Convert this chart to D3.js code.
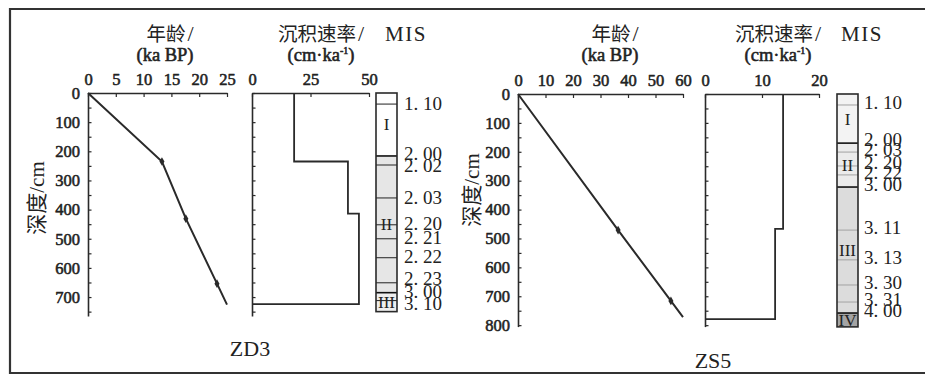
<!DOCTYPE html>
<html>
<head>
<meta charset="utf-8">
<script src="https://cdn.jsdelivr.net/npm/d3@7/dist/d3.min.js"></script>
<style>
  html, body { margin: 0; padding: 0; background: #fff; }
  svg { display: block; }
</style>
</head>
<body>
<svg id="chart" width="925" height="376"></svg>
<script>
// ---- ZD3 core ----
const zd3Depth = [0, 235, 431, 654, 726];          // cm
const zd3Age = [0, 13.3, 17.6, 23.2, 25.0];         // ka BP
const zd3AgeTicks = [0, 5, 10, 15, 20, 25];
const zd3RateTop = [0, 235, 414];                   // cm
const zd3RateBottom = [235, 414, 724];              // cm
const zd3Rate = [18.0, 41.0, 45.7];                 // cm/ka
const zd3RateTicks = [0, 25, 50];
const zd3MisLabels = ["1. 10", "2. 00", "2. 02", "2. 03", "2. 20", "2. 21", "2. 22", "2. 23", "3. 00", "3. 10"];
const zd3MisDepth = [38, 216, 247, 360, 452, 500, 565, 651, 685, 712];
const zd3Stages = ["I", "II", "III"];
const zd3StageTop = [0, 216, 685];
const zd3StageBottom = [216, 685, 750];
const zd3DepthTicks = [0, 100, 200, 300, 400, 500, 600, 700];

// ---- ZS5 core ----
const zs5Depth = [0, 471, 716, 772];
const zs5Age = [0, 36.4, 55.6, 60.0];
const zs5AgeTicks = [0, 10, 20, 30, 40, 50, 60];
const zs5RateTop = [0, 467];
const zs5RateBottom = [467, 779];
const zs5Rate = [13.7, 12.3];
const zs5RateTicks = [0, 10, 20];
const zs5MisLabels = ["1. 10", "2. 00", "2. 03", "2. 20", "2. 22", "3. 00", "3. 11", "3. 13", "3. 30", "3. 31", "4. 00"];
const zs5MisDepth = [38, 170, 201, 249, 280, 322, 471, 574, 661, 720, 758];
const zs5Stages = ["I", "II", "III", "IV"];
const zs5StageTop = [0, 170, 322, 758];
const zs5StageBottom = [170, 322, 758, 806];
const zs5DepthTicks = [0, 100, 200, 300, 400, 500, 600, 700, 800];

const svg = d3.select("#chart");
const ink = "#2a2a2a";
const SERIF = '"Liberation Serif", "Times New Roman", Tinos, Times, "DejaVu Serif", serif, "Noto Sans CJK SC"';

// outer frame (open on the right side)
svg.append("path")
  .attr("d", "M930,9 H10 V373 H930")
  .attr("fill", "none").attr("stroke", "#333").attr("stroke-width", 2.2);

// push crowded labels apart symmetrically until every gap is at least minGap
function spread(ys, minGap) {
  const out = ys.slice();
  for (let k = 0; k < 80; k++) {
    let moved = false;
    for (let i = 1; i < out.length; i++) {
      const gap = out[i] - out[i - 1];
      if (gap < minGap - 0.01) {
        const d = (minGap - gap) / 2;
        out[i - 1] -= d; out[i] += d; moved = true;
      }
    }
    if (!moved) break;
  }
  return out;
}

// heavy serif text: regular face thickened with a thin outline
function heavy(sel) {
  return sel.style("font-weight", "normal")
    .attr("stroke", "#222").attr("stroke-width", 0.55).attr("stroke-linejoin", "round");
}

function drawCore(cfg) {
  const g = svg.append("g");
  const y = d3.scaleLinear().domain([0, cfg.depthMax]).range([cfg.yTop, cfg.yBottom]);
  const xAge = d3.scaleLinear().domain([0, cfg.ageMax]).range(cfg.ageRange);
  const xRate = d3.scaleLinear().domain([0, cfg.rateMax]).range(cfg.rateRange);
  const minorDepth = d3.range(0, cfg.depthMax + 1, 50);

  function styleAxis(sel) {
    sel.attr("font-family", null);
    sel.select(".domain").attr("stroke", ink).attr("stroke-width", 1.6);
    sel.selectAll(".tick line").attr("stroke", ink).attr("stroke-width", 1.2);
    sel.selectAll("text").attr("fill", "#222")
      .style("font-family", SERIF).style("font-size", "16.5px").call(heavy);
  }

  // age axes
  g.append("g").attr("transform", `translate(0,${cfg.yTop})`)
    .call(d3.axisTop(xAge).tickValues(cfg.ageTicks).tickSizeInner(-4).tickSizeOuter(0).tickPadding(8))
    .call(styleAxis);
  g.append("g").attr("transform", `translate(${cfg.ageRange[0]},0)`)
    .call(d3.axisLeft(y).tickValues(minorDepth).tickSizeInner(-3.5).tickSizeOuter(0).tickPadding(8)
      .tickFormat(d => cfg.depthTicks.includes(d) ? d : ""))
    .call(styleAxis);

  // rate axes
  g.append("g").attr("transform", `translate(0,${cfg.yTop})`)
    .call(d3.axisTop(xRate).tickValues(cfg.rateTicks).tickSizeInner(-4).tickSizeOuter(0).tickPadding(8))
    .call(styleAxis);
  g.append("g").attr("transform", `translate(${cfg.rateRange[0]},0)`)
    .call(d3.axisLeft(y).tickValues(minorDepth).tickSizeInner(-3.5).tickSizeOuter(0).tickFormat(""))
    .call(styleAxis);

  // age-depth line with dated points
  const pts = cfg.depth.map((d, i) => [cfg.age[i], d]);
  g.append("path")
    .attr("d", d3.line().x(d => xAge(d[0])).y(d => y(d[1]))(pts))
    .attr("fill", "none").attr("stroke", ink).attr("stroke-width", 2);
  g.selectAll(null).data(pts.slice(1, -1)).join("path")
    .attr("transform", d => `translate(${xAge(d[0])},${y(d[1])})`)
    .attr("d", d3.symbol(d3.symbolDiamond, 22)())
    .attr("fill", ink);

  // sedimentation-rate steps
  const steps = [];
  cfg.rate.forEach((r, i) => { steps.push([r, cfg.rateTop[i]]); steps.push([r, cfg.rateBottom[i]]); });
  steps.push([0, cfg.rateBottom[cfg.rateBottom.length - 1]]);
  g.append("path")
    .attr("d", d3.line().x(d => xRate(d[0])).y(d => y(d[1]))(steps))
    .attr("fill", "none").attr("stroke", ink).attr("stroke-width", 1.8);

  // MIS column
  const [c0, c1] = cfg.misCol;
  g.selectAll(null).data(cfg.stages).join("rect")
    .attr("x", c0).attr("width", c1 - c0)
    .attr("y", (d, i) => y(cfg.stageTop[i]))
    .attr("height", (d, i) => y(cfg.stageBottom[i]) - y(cfg.stageTop[i]))
    .attr("fill", (d, i) => cfg.stageFill[i]);
  g.selectAll(null).data(cfg.misDepth).join("line")
    .attr("x1", c0).attr("x2", c1)
    .attr("y1", d => y(d)).attr("y2", d => y(d))
    .attr("stroke", d => cfg.stageTop.includes(d) ? "#111" : cfg.subStroke)
    .attr("stroke-width", d => cfg.stageTop.includes(d) ? 1.6 : 1.1);
  g.append("rect")
    .attr("x", c0).attr("width", c1 - c0)
    .attr("y", y(0)).attr("height", y(cfg.stageBottom[cfg.stageBottom.length - 1]) - y(0))
    .attr("fill", "none").attr("stroke", ink).attr("stroke-width", 1.6);
  g.selectAll(null).data(cfg.stages).join("text")
    .attr("x", (c0 + c1) / 2)
    .attr("y", (d, i) => (y(cfg.stageTop[i]) + y(cfg.stageBottom[i])) / 2)
    .attr("dy", "0.35em").attr("text-anchor", "middle")
    .style("font-family", SERIF).style("font-size", "17px").attr("fill", "#222")
    .text(d => d);

  // substage labels, nudged apart where boundaries crowd together
  const labelY = spread(cfg.misDepth.map(d => y(d) + cfg.labelShift), cfg.labelGap);
  g.selectAll(null).data(cfg.misLabels).join("text")
    .attr("x", cfg.misLabelX)
    .attr("y", (d, i) => labelY[i])
    .attr("dy", "0.35em")
    .style("font-family", SERIF).style("font-size", "19px").attr("fill", "#222")
    .text(d => d);

  // titles
  const t = (x, yy, size) =>
    g.append("text").attr("x", x).attr("y", yy).attr("text-anchor", "middle")
      .style("font-family", SERIF).style("font-size", size + "px")
      .attr("fill", "#222");
  const cjkTitle = (x, txt) => {
    const el = t(x, 41, 19.5);
    el.append("tspan").text(txt);
    el.append("tspan").attr("dx", 2).style("font-size", "22px").text("/");
  };
  cjkTitle(cfg.ageTitleX, "年龄");
  t(cfg.ageTitleX - 5, 61, 18.5).call(heavy).text("(ka  BP)");
  cjkTitle(cfg.rateTitleX, "沉积速率");
  const unit = t(cfg.rateTitleX, 61, 18.5).call(heavy);
  unit.append("tspan").text("(cm·ka");
  unit.append("tspan").attr("dy", -7).style("font-size", "10px").text("-1");
  unit.append("tspan").attr("dy", 7).text(")");
  t(cfg.misTitleX, 41, 21).style("letter-spacing", "1.5px").text("MIS");
  t(cfg.coreLabelX, cfg.coreLabelY, 22).text(cfg.name);

  g.append("text")
    .attr("transform", `translate(${cfg.yTitleX},${cfg.yTitleY}) rotate(-90)`)
    .attr("text-anchor", "middle").attr("dy", "0.35em")
    .style("font-family", SERIF).style("font-size", "21px").attr("fill", "#222")
    .text("深度/cm");
}

drawCore({
  name: "ZD3", depth: zd3Depth, age: zd3Age, ageTicks: zd3AgeTicks, ageMax: 25,
  rateTop: zd3RateTop, rateBottom: zd3RateBottom, rate: zd3Rate, rateTicks: zd3RateTicks, rateMax: 50,
  misLabels: zd3MisLabels, misDepth: zd3MisDepth, stages: zd3Stages,
  stageTop: zd3StageTop, stageBottom: zd3StageBottom, depthTicks: zd3DepthTicks,
  stageFill: ["#ffffff", "#e6e6e6", "#eeeeee"], subStroke: "#333",
  depthMax: 765, yTop: 93, yBottom: 316,
  ageRange: [88, 227], rateRange: [252, 369], misCol: [376, 397], misLabelX: 404,
  labelShift: -1, labelGap: 12.5,
  ageTitleX: 170, rateTitleX: 321, misTitleX: 406, coreLabelX: 250, coreLabelY: 356,
  yTitleX: 37, yTitleY: 198
});

drawCore({
  name: "ZS5", depth: zs5Depth, age: zs5Age, ageTicks: zs5AgeTicks, ageMax: 60,
  rateTop: zs5RateTop, rateBottom: zs5RateBottom, rate: zs5Rate, rateTicks: zs5RateTicks, rateMax: 20,
  misLabels: zs5MisLabels, misDepth: zs5MisDepth, stages: zs5Stages,
  stageTop: zs5StageTop, stageBottom: zs5StageBottom, depthTicks: zs5DepthTicks,
  stageFill: ["#f3f3f3", "#ebebeb", "#dcdcdc", "#a4a4a4"], subStroke: "#a8a8a8",
  depthMax: 805, yTop: 94, yBottom: 326.6,
  ageRange: [518, 683], rateRange: [705, 819], misCol: [837, 858], misLabelX: 864,
  labelShift: -3, labelGap: 10,
  ageTitleX: 615, rateTitleX: 778, misTitleX: 862, coreLabelX: 713, coreLabelY: 368,
  yTitleX: 472, yTitleY: 190
});
</script>
</body>
</html>
